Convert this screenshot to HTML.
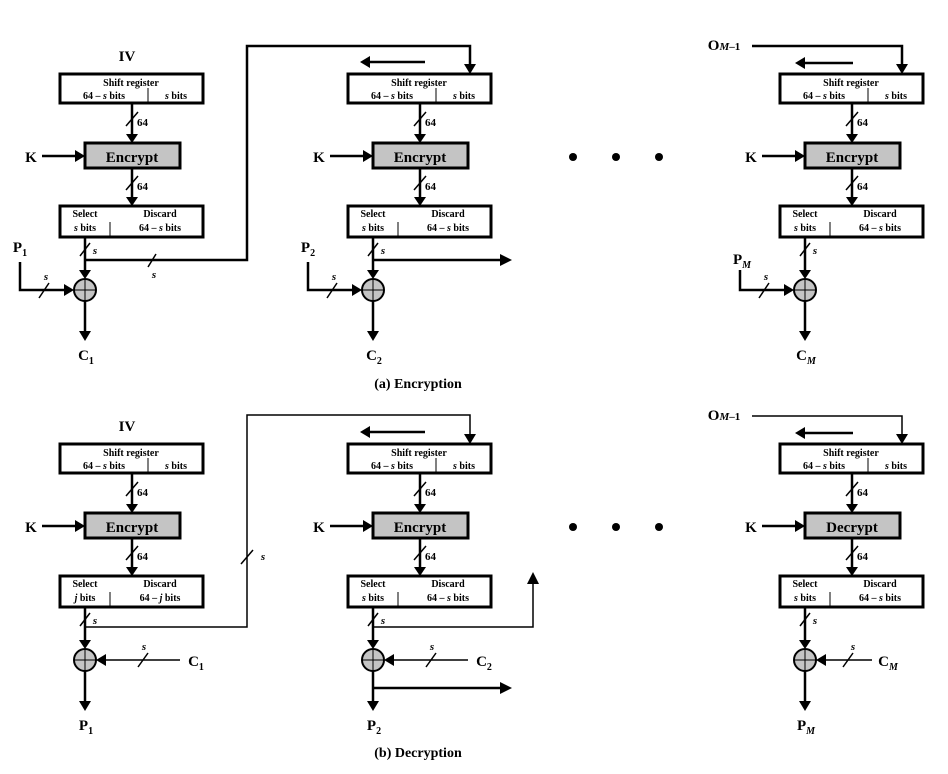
<!DOCTYPE html>
<html><head><meta charset="utf-8"><style>
html,body{margin:0;padding:0;background:#fff;}
svg{display:block;font-family:"Liberation Serif",serif;font-weight:bold;}
</style></head><body>
<svg width="948" height="774" viewBox="0 0 948 774" xmlns="http://www.w3.org/2000/svg">
<g stroke="#000" stroke-width="2.5" fill="none">

<!-- ===== (a) stage 1 ===== -->
<g transform="translate(0,0)">
<rect x="60" y="74" width="143" height="29" stroke-width="3" fill="#fff"/>
<line x1="148" y1="88" x2="148" y2="103" stroke-width="1"/>
<line x1="132" y1="103" x2="132" y2="136"/><polygon points="126,134 138,134 132,143" fill="#000" stroke="none"/>
<line x1="126" y1="126" x2="138" y2="112" stroke-width="1.5"/>
<line x1="42" y1="156" x2="77" y2="156"/><polygon points="75,150 75,162 85,156" fill="#000" stroke="none"/>
<rect x="85" y="143" width="95" height="25" fill="#c4c4c4" stroke-width="3"/>
<line x1="132" y1="168" x2="132" y2="199"/><polygon points="126,197 138,197 132,206" fill="#000" stroke="none"/>
<line x1="126" y1="190" x2="138" y2="176" stroke-width="1.5"/>
<rect x="60" y="206" width="143" height="31" stroke-width="3" fill="#fff"/>
<line x1="110" y1="222" x2="110" y2="237" stroke-width="1"/>
<line x1="85" y1="237" x2="85" y2="272"/><polygon points="79,270 91,270 85,279" fill="#000" stroke="none"/>
<line x1="80" y1="256" x2="90" y2="243" stroke-width="1.5"/>
<circle cx="85" cy="290" r="11" fill="#c4c4c4" stroke-width="2"/>
<line x1="74" y1="290" x2="96" y2="290" stroke-width="1"/><line x1="85" y1="279" x2="85" y2="301" stroke-width="1"/>
<line x1="85" y1="301" x2="85" y2="333"/><polygon points="79,331 91,331 85,341" fill="#000" stroke="none"/>
<path d="M20,262 V290 H66"/><polygon points="64,284 64,296 74,290" fill="#000" stroke="none"/>
<line x1="39" y1="298" x2="49" y2="283" stroke-width="1.5"/>
</g>
<path d="M85,260 H247 V46 H470 V66"/><polygon points="464,64 476,64 470,74" fill="#000" stroke="none"/>
<line x1="148" y1="267" x2="156" y2="254" stroke-width="1.5"/>

<!-- ===== (a) stage 2 ===== -->
<g transform="translate(288,0)">
<rect x="60" y="74" width="143" height="29" stroke-width="3" fill="#fff"/>
<line x1="148" y1="88" x2="148" y2="103" stroke-width="1"/>
<line x1="132" y1="103" x2="132" y2="136"/><polygon points="126,134 138,134 132,143" fill="#000" stroke="none"/>
<line x1="126" y1="126" x2="138" y2="112" stroke-width="1.5"/>
<line x1="42" y1="156" x2="77" y2="156"/><polygon points="75,150 75,162 85,156" fill="#000" stroke="none"/>
<rect x="85" y="143" width="95" height="25" fill="#c4c4c4" stroke-width="3"/>
<line x1="132" y1="168" x2="132" y2="199"/><polygon points="126,197 138,197 132,206" fill="#000" stroke="none"/>
<line x1="126" y1="190" x2="138" y2="176" stroke-width="1.5"/>
<rect x="60" y="206" width="143" height="31" stroke-width="3" fill="#fff"/>
<line x1="110" y1="222" x2="110" y2="237" stroke-width="1"/>
<line x1="85" y1="237" x2="85" y2="272"/><polygon points="79,270 91,270 85,279" fill="#000" stroke="none"/>
<line x1="80" y1="256" x2="90" y2="243" stroke-width="1.5"/>
<circle cx="85" cy="290" r="11" fill="#c4c4c4" stroke-width="2"/>
<line x1="74" y1="290" x2="96" y2="290" stroke-width="1"/><line x1="85" y1="279" x2="85" y2="301" stroke-width="1"/>
<line x1="85" y1="301" x2="85" y2="333"/><polygon points="79,331 91,331 85,341" fill="#000" stroke="none"/>
<path d="M20,262 V290 H66"/><polygon points="64,284 64,296 74,290" fill="#000" stroke="none"/>
<line x1="39" y1="298" x2="49" y2="283" stroke-width="1.5"/>
<path d="M85,260 H214"/><polygon points="212,254 212,266 224,260" fill="#000" stroke="none"/>
<line x1="137" y1="62" x2="82" y2="62"/><polygon points="82,56 82,68 72,62" fill="#000" stroke="none"/>
</g>

<!-- ===== (a) stage M ===== -->
<g transform="translate(720,0)">
<rect x="60" y="74" width="143" height="29" stroke-width="3" fill="#fff"/>
<line x1="148" y1="88" x2="148" y2="103" stroke-width="1"/>
<line x1="132" y1="103" x2="132" y2="136"/><polygon points="126,134 138,134 132,143" fill="#000" stroke="none"/>
<line x1="126" y1="126" x2="138" y2="112" stroke-width="1.5"/>
<line x1="42" y1="156" x2="77" y2="156"/><polygon points="75,150 75,162 85,156" fill="#000" stroke="none"/>
<rect x="85" y="143" width="95" height="25" fill="#c4c4c4" stroke-width="3"/>
<line x1="132" y1="168" x2="132" y2="199"/><polygon points="126,197 138,197 132,206" fill="#000" stroke="none"/>
<line x1="126" y1="190" x2="138" y2="176" stroke-width="1.5"/>
<rect x="60" y="206" width="143" height="31" stroke-width="3" fill="#fff"/>
<line x1="110" y1="222" x2="110" y2="237" stroke-width="1"/>
<line x1="85" y1="237" x2="85" y2="272"/><polygon points="79,270 91,270 85,279" fill="#000" stroke="none"/>
<line x1="80" y1="256" x2="90" y2="243" stroke-width="1.5"/>
<circle cx="85" cy="290" r="11" fill="#c4c4c4" stroke-width="2"/>
<line x1="74" y1="290" x2="96" y2="290" stroke-width="1"/><line x1="85" y1="279" x2="85" y2="301" stroke-width="1"/>
<line x1="85" y1="301" x2="85" y2="333"/><polygon points="79,331 91,331 85,341" fill="#000" stroke="none"/>
<path d="M20,270 V290 H66"/><polygon points="64,284 64,296 74,290" fill="#000" stroke="none"/>
<line x1="39" y1="298" x2="49" y2="283" stroke-width="1.5"/>
<path d="M32,46 H182 V66"/><polygon points="176,64 188,64 182,74" fill="#000" stroke="none"/>
<line x1="133" y1="63" x2="85" y2="63"/><polygon points="85,57 85,69 75,63" fill="#000" stroke="none"/>
</g>

<!-- ===== (b) stage 1 ===== -->
<g transform="translate(0,370)">
<rect x="60" y="74" width="143" height="29" stroke-width="3" fill="#fff"/>
<line x1="148" y1="88" x2="148" y2="103" stroke-width="1"/>
<line x1="132" y1="103" x2="132" y2="136"/><polygon points="126,134 138,134 132,143" fill="#000" stroke="none"/>
<line x1="126" y1="126" x2="138" y2="112" stroke-width="1.5"/>
<line x1="42" y1="156" x2="77" y2="156"/><polygon points="75,150 75,162 85,156" fill="#000" stroke="none"/>
<rect x="85" y="143" width="95" height="25" fill="#c4c4c4" stroke-width="3"/>
<line x1="132" y1="168" x2="132" y2="199"/><polygon points="126,197 138,197 132,206" fill="#000" stroke="none"/>
<line x1="126" y1="190" x2="138" y2="176" stroke-width="1.5"/>
<rect x="60" y="206" width="143" height="31" stroke-width="3" fill="#fff"/>
<line x1="110" y1="222" x2="110" y2="237" stroke-width="1"/>
<line x1="85" y1="237" x2="85" y2="272"/><polygon points="79,270 91,270 85,279" fill="#000" stroke="none"/>
<line x1="80" y1="256" x2="90" y2="243" stroke-width="1.5"/>
<circle cx="85" cy="290" r="11" fill="#c4c4c4" stroke-width="2"/>
<line x1="74" y1="290" x2="96" y2="290" stroke-width="1"/><line x1="85" y1="279" x2="85" y2="301" stroke-width="1"/>
<line x1="85" y1="301" x2="85" y2="333"/><polygon points="79,331 91,331 85,341" fill="#000" stroke="none"/>
<line x1="180" y1="290" x2="105" y2="290" stroke-width="1.5"/><polygon points="106,284 106,296 96,290" fill="#000" stroke="none"/>
<line x1="138" y1="297" x2="148" y2="283" stroke-width="1.5"/>
</g>
<path d="M85,627 H247 V415 H470 V436" stroke-width="1.5"/><polygon points="464,434 476,434 470,444" fill="#000" stroke="none"/>
<line x1="241" y1="564" x2="253" y2="550" stroke-width="1.5"/>

<!-- ===== (b) stage 2 ===== -->
<g transform="translate(288,370)">
<rect x="60" y="74" width="143" height="29" stroke-width="3" fill="#fff"/>
<line x1="148" y1="88" x2="148" y2="103" stroke-width="1"/>
<line x1="132" y1="103" x2="132" y2="136"/><polygon points="126,134 138,134 132,143" fill="#000" stroke="none"/>
<line x1="126" y1="126" x2="138" y2="112" stroke-width="1.5"/>
<line x1="42" y1="156" x2="77" y2="156"/><polygon points="75,150 75,162 85,156" fill="#000" stroke="none"/>
<rect x="85" y="143" width="95" height="25" fill="#c4c4c4" stroke-width="3"/>
<line x1="132" y1="168" x2="132" y2="199"/><polygon points="126,197 138,197 132,206" fill="#000" stroke="none"/>
<line x1="126" y1="190" x2="138" y2="176" stroke-width="1.5"/>
<rect x="60" y="206" width="143" height="31" stroke-width="3" fill="#fff"/>
<line x1="110" y1="222" x2="110" y2="237" stroke-width="1"/>
<line x1="85" y1="237" x2="85" y2="272"/><polygon points="79,270 91,270 85,279" fill="#000" stroke="none"/>
<line x1="80" y1="256" x2="90" y2="243" stroke-width="1.5"/>
<circle cx="85" cy="290" r="11" fill="#c4c4c4" stroke-width="2"/>
<line x1="74" y1="290" x2="96" y2="290" stroke-width="1"/><line x1="85" y1="279" x2="85" y2="301" stroke-width="1"/>
<line x1="85" y1="301" x2="85" y2="333"/><polygon points="79,331 91,331 85,341" fill="#000" stroke="none"/>
<line x1="180" y1="290" x2="105" y2="290" stroke-width="1.5"/><polygon points="106,284 106,296 96,290" fill="#000" stroke="none"/>
<line x1="138" y1="297" x2="148" y2="283" stroke-width="1.5"/>
<path d="M85,257 H245 V212" stroke-width="1.5"/><polygon points="239,214 251,214 245,202" fill="#000" stroke="none"/>
<path d="M85,318 H214"/><polygon points="212,312 212,324 224,318" fill="#000" stroke="none"/>
<line x1="137" y1="62" x2="82" y2="62"/><polygon points="82,56 82,68 72,62" fill="#000" stroke="none"/>
</g>

<!-- ===== (b) stage M ===== -->
<g transform="translate(720,370)">
<rect x="60" y="74" width="143" height="29" stroke-width="3" fill="#fff"/>
<line x1="148" y1="88" x2="148" y2="103" stroke-width="1"/>
<line x1="132" y1="103" x2="132" y2="136"/><polygon points="126,134 138,134 132,143" fill="#000" stroke="none"/>
<line x1="126" y1="126" x2="138" y2="112" stroke-width="1.5"/>
<line x1="42" y1="156" x2="77" y2="156"/><polygon points="75,150 75,162 85,156" fill="#000" stroke="none"/>
<rect x="85" y="143" width="95" height="25" fill="#c4c4c4" stroke-width="3"/>
<line x1="132" y1="168" x2="132" y2="199"/><polygon points="126,197 138,197 132,206" fill="#000" stroke="none"/>
<line x1="126" y1="190" x2="138" y2="176" stroke-width="1.5"/>
<rect x="60" y="206" width="143" height="31" stroke-width="3" fill="#fff"/>
<line x1="110" y1="222" x2="110" y2="237" stroke-width="1"/>
<line x1="85" y1="237" x2="85" y2="272"/><polygon points="79,270 91,270 85,279" fill="#000" stroke="none"/>
<line x1="80" y1="256" x2="90" y2="243" stroke-width="1.5"/>
<circle cx="85" cy="290" r="11" fill="#c4c4c4" stroke-width="2"/>
<line x1="74" y1="290" x2="96" y2="290" stroke-width="1"/><line x1="85" y1="279" x2="85" y2="301" stroke-width="1"/>
<line x1="85" y1="301" x2="85" y2="333"/><polygon points="79,331 91,331 85,341" fill="#000" stroke="none"/>
<line x1="152" y1="290" x2="105" y2="290" stroke-width="1.5"/><polygon points="106,284 106,296 96,290" fill="#000" stroke="none"/>
<line x1="123" y1="297" x2="133" y2="283" stroke-width="1.5"/>
<path d="M32,46 H182 V66" stroke-width="1.5"/><polygon points="176,64 188,64 182,74" fill="#000" stroke="none"/>
<line x1="133" y1="63" x2="85" y2="63"/><polygon points="85,57 85,69 75,63" fill="#000" stroke="none"/>
</g>
</g>

<!-- dots -->
<g fill="#000">
<circle cx="573" cy="157" r="4"/><circle cx="616" cy="157" r="4"/><circle cx="659" cy="157" r="4"/>
<circle cx="573" cy="527" r="4"/><circle cx="616" cy="527" r="4"/><circle cx="659" cy="527" r="4"/>
</g>

<!-- ===== text ===== -->
<g fill="#000" text-anchor="middle">
<!-- per-stage box labels -->
<g font-size="10">
<text x="131" y="86">Shift register</text><text x="104" y="99">64 – <tspan font-style="italic">s</tspan> bits</text><text x="176" y="99"><tspan font-style="italic">s</tspan> bits</text>
<text x="85" y="217">Select</text><text x="85" y="231"><tspan font-style="italic">s</tspan> bits</text><text x="160" y="217">Discard</text><text x="160" y="231">64 – <tspan font-style="italic">s</tspan> bits</text>
<text x="419" y="86">Shift register</text><text x="392" y="99">64 – <tspan font-style="italic">s</tspan> bits</text><text x="464" y="99"><tspan font-style="italic">s</tspan> bits</text>
<text x="373" y="217">Select</text><text x="373" y="231"><tspan font-style="italic">s</tspan> bits</text><text x="448" y="217">Discard</text><text x="448" y="231">64 – <tspan font-style="italic">s</tspan> bits</text>
<text x="851" y="86">Shift register</text><text x="824" y="99">64 – <tspan font-style="italic">s</tspan> bits</text><text x="896" y="99"><tspan font-style="italic">s</tspan> bits</text>
<text x="805" y="217">Select</text><text x="805" y="231"><tspan font-style="italic">s</tspan> bits</text><text x="880" y="217">Discard</text><text x="880" y="231">64 – <tspan font-style="italic">s</tspan> bits</text>

<text x="131" y="456">Shift register</text><text x="104" y="469">64 – <tspan font-style="italic">s</tspan> bits</text><text x="176" y="469"><tspan font-style="italic">s</tspan> bits</text>
<text x="85" y="587">Select</text><text x="85" y="601"><tspan font-style="italic">j</tspan> bits</text><text x="160" y="587">Discard</text><text x="160" y="601">64 – <tspan font-style="italic">j</tspan> bits</text>
<text x="419" y="456">Shift register</text><text x="392" y="469">64 – <tspan font-style="italic">s</tspan> bits</text><text x="464" y="469"><tspan font-style="italic">s</tspan> bits</text>
<text x="373" y="587">Select</text><text x="373" y="601"><tspan font-style="italic">s</tspan> bits</text><text x="448" y="587">Discard</text><text x="448" y="601">64 – <tspan font-style="italic">s</tspan> bits</text>
<text x="851" y="456">Shift register</text><text x="824" y="469">64 – <tspan font-style="italic">s</tspan> bits</text><text x="896" y="469"><tspan font-style="italic">s</tspan> bits</text>
<text x="805" y="587">Select</text><text x="805" y="601"><tspan font-style="italic">s</tspan> bits</text><text x="880" y="587">Discard</text><text x="880" y="601">64 – <tspan font-style="italic">s</tspan> bits</text>
</g>
<g font-size="15">
<text x="132" y="162">Encrypt</text><text x="420" y="162">Encrypt</text><text x="852" y="162">Encrypt</text>
<text x="132" y="532">Encrypt</text><text x="420" y="532">Encrypt</text><text x="852" y="532">Decrypt</text>
</g>
<g font-size="11" text-anchor="start">
<text x="137" y="126">64</text><text x="137" y="190">64</text>
<text x="425" y="126">64</text><text x="425" y="190">64</text>
<text x="857" y="126">64</text><text x="857" y="190">64</text>
<text x="137" y="496">64</text><text x="137" y="560">64</text>
<text x="425" y="496">64</text><text x="425" y="560">64</text>
<text x="857" y="496">64</text><text x="857" y="560">64</text>
</g>
<g font-size="11" font-style="italic">
<text x="95" y="254">s</text><text x="383" y="254">s</text><text x="815" y="254">s</text>
<text x="46" y="280">s</text><text x="334" y="280">s</text><text x="766" y="280">s</text>
<text x="154" y="278">s</text>
<text x="95" y="624">s</text><text x="383" y="624">s</text><text x="815" y="624">s</text>
<text x="263" y="560">s</text>
<text x="144" y="650">s</text><text x="432" y="650">s</text><text x="853" y="650">s</text>
</g>
<g font-size="15">
<text x="127" y="61">IV</text><text x="127" y="431">IV</text>
<text x="31" y="162">K</text><text x="319" y="162">K</text><text x="751" y="162">K</text>
<text x="31" y="532">K</text><text x="319" y="532">K</text><text x="751" y="532">K</text>
<text x="20" y="252">P<tspan font-size="10" dy="4">1</tspan></text>
<text x="308" y="252">P<tspan font-size="10" dy="4">2</tspan></text>
<text x="742" y="264">P<tspan font-size="10" font-style="italic" dy="4">M</tspan></text>
<text x="86" y="360">C<tspan font-size="10" dy="4">1</tspan></text>
<text x="374" y="360">C<tspan font-size="10" dy="4">2</tspan></text>
<text x="806" y="360">C<tspan font-size="10" font-style="italic" dy="4">M</tspan></text>
<text x="724" y="50">O<tspan font-size="11" font-style="italic">M</tspan><tspan font-size="11">–1</tspan></text>
<text x="724" y="420">O<tspan font-size="11" font-style="italic">M</tspan><tspan font-size="11">–1</tspan></text>
<text x="196" y="666">C<tspan font-size="10" dy="4">1</tspan></text>
<text x="484" y="666">C<tspan font-size="10" dy="4">2</tspan></text>
<text x="888" y="666">C<tspan font-size="10" font-style="italic" dy="4">M</tspan></text>
<text x="86" y="730">P<tspan font-size="10" dy="4">1</tspan></text>
<text x="374" y="730">P<tspan font-size="10" dy="4">2</tspan></text>
<text x="806" y="730">P<tspan font-size="10" font-style="italic" dy="4">M</tspan></text>
</g>
<g font-size="14">
<text x="418" y="388">(a) Encryption</text>
<text x="418" y="757">(b) Decryption</text>
</g>
</g>
</svg>
</body></html>
